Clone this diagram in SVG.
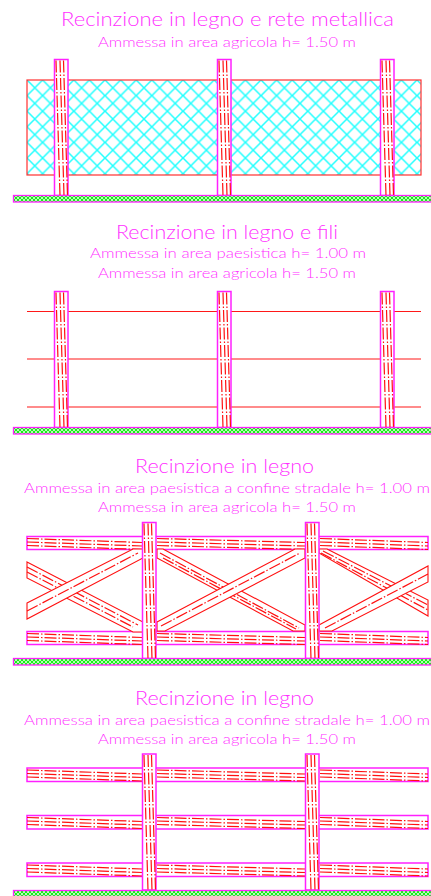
<svg xmlns="http://www.w3.org/2000/svg" width="431" height="896" viewBox="0 0 431 896">
<style>
text{font-family:"Lato","Open Sans","Liberation Sans",sans-serif;font-weight:300;fill:#ff30ff;text-anchor:start}
.t{font-size:20px}
.s{font-size:14.5px}
.edge{fill:#fff;stroke:#ff20ff;stroke-width:1.5}
.grain{fill:none;stroke:#ff1010;stroke-width:1.2;stroke-dasharray:12 2 1.500 2}
.diag{fill:#fff;stroke:#ff1010;stroke-width:1.1}
.wire{stroke:#ff1818;stroke-width:1.2;fill:none}
.gnd{fill:url(#hatch);stroke:#ff20ff;stroke-width:1.3}
</style>
<defs>
<pattern id="net" patternUnits="userSpaceOnUse" width="15.600" height="15.600" x="27" y="80">
<path d="M0 0L15.600 15.600M15.600 0L0 15.600" stroke="#20ffff" stroke-width="1.500" fill="none"/>
</pattern>
<pattern id="hatch" patternUnits="userSpaceOnUse" width="4" height="4">
<rect width="4" height="4" fill="#18f018"/>
<path d="M0 4L4 0M0 0L4 4" stroke="#fff" stroke-width="0.700"/>
</pattern>
<g id="post">
<rect class="edge" x="0" y="0" width="13.500" height="136"/>
<path class="grain" d="M1.500 1L5.500 136M5.500 1L9.500 136M9 1L13 136"/>
</g>
<g id="rails">
<path class="grain" d="M0 2L115 6M0 5.500L115 9.500M0 9L115 13M130 2L278 6M130 5.500L278 9.500M130 9L278 13M293 2L401 6M293 5.500L401 9.500M293 9L401 13"/>
</g>
</defs>

<g id="fence-1">
<text class="t" x="61" y="26" textLength="333" lengthAdjust="spacingAndGlyphs">Recinzione in legno e rete metallica</text>
<text class="s" x="98" y="47" textLength="258" lengthAdjust="spacingAndGlyphs">Ammessa in area agricola h= 1.50 m</text>
<rect x="27" y="80" width="394" height="95" fill="url(#net)" stroke="#ff3030" stroke-width="1.200"/>
<use href="#post" x="54.500" y="59.500"/>
<use href="#post" x="217.500" y="59.500"/>
<use href="#post" x="380.500" y="59.500"/>
<rect class="gnd" x="13.500" y="195.500" width="418" height="6.500"/>
</g>

<g id="fence-2">
<text class="t" x="116" y="239" textLength="222" lengthAdjust="spacingAndGlyphs">Recinzione in legno e fili</text>
<text class="s" x="90" y="258" textLength="276" lengthAdjust="spacingAndGlyphs">Ammessa in area paesistica h= 1.00 m</text>
<text class="s" x="98" y="278" textLength="258" lengthAdjust="spacingAndGlyphs">Ammessa in area agricola h= 1.50 m</text>
<path class="wire" d="M27 311.500H421M27 359H421M27 407H421"/>
<use href="#post" x="54.500" y="291.500"/>
<use href="#post" x="217.500" y="291.500"/>
<use href="#post" x="380.500" y="291.500"/>
<rect class="gnd" x="13.500" y="427.500" width="418" height="6.500"/>
</g>

<g id="fence-3">
<text class="t" x="135" y="473" textLength="179" lengthAdjust="spacingAndGlyphs">Recinzione in legno</text>
<text class="s" x="24" y="493" textLength="406" lengthAdjust="spacingAndGlyphs">Ammessa in area paesistica a confine stradale h= 1.00 m</text>
<text class="s" x="98" y="512" textLength="258" lengthAdjust="spacingAndGlyphs">Ammessa in area agricola h= 1.50 m</text>
<rect class="edge" x="27" y="536.500" width="401" height="13"/>
<rect class="edge" x="27" y="631.500" width="401" height="13"/>
<use href="#rails" x="27" y="536.500"/>
<use href="#rails" x="27" y="631.500"/>
<polygon class="diag" points="27,562 143,622 143,632 133,632 27,578"/>
<path class="grain" d="M27 567L138 625M27 572L133 627"/>
<polygon class="diag" points="27,603 133,549 143,549 143,558 27,619"/>
<path class="grain" d="M27 611L138 553"/>
<polygon class="diag" points="163,549 305,625 305,631 293,631 157,558 157,549"/>
<path class="grain" d="M160 553L299 628M163 558L296 629"/>
<polygon class="diag" points="157,622 295,549 305,549 305,558 165,631 157,631"/>
<path class="grain" d="M161 626L300 553"/>
<polygon class="diag" points="327,549 428,600 428,616 319,553 319,549"/>
<path class="grain" d="M323 551L428 605M321 553L428 610"/>
<polygon class="diag" points="319,625 428,566 428,582 332,631 319,631"/>
<path class="grain" d="M325 628L428 574"/>
<use href="#post" x="142.500" y="522.500"/>
<use href="#post" x="305.500" y="522.500"/>
<rect class="gnd" x="13.500" y="658.500" width="418" height="6.500"/>
</g>

<g id="fence-4">
<text class="t" x="135" y="705" textLength="179" lengthAdjust="spacingAndGlyphs">Recinzione in legno</text>
<text class="s" x="24" y="725" textLength="406" lengthAdjust="spacingAndGlyphs">Ammessa in area paesistica a confine stradale h= 1.00 m</text>
<text class="s" x="98" y="744" textLength="258" lengthAdjust="spacingAndGlyphs">Ammessa in area agricola h= 1.50 m</text>
<rect class="edge" x="27" y="768" width="401" height="13.500"/>
<rect class="edge" x="27" y="815.500" width="401" height="13.500"/>
<rect class="edge" x="27" y="863" width="401" height="13.500"/>
<use href="#rails" x="27" y="768"/>
<use href="#rails" x="27" y="815.500"/>
<use href="#rails" x="27" y="863"/>
<use href="#post" x="142.500" y="754"/>
<use href="#post" x="305.500" y="754"/>
<rect class="gnd" x="13.500" y="890.500" width="418" height="6"/>
</g>
</svg>
